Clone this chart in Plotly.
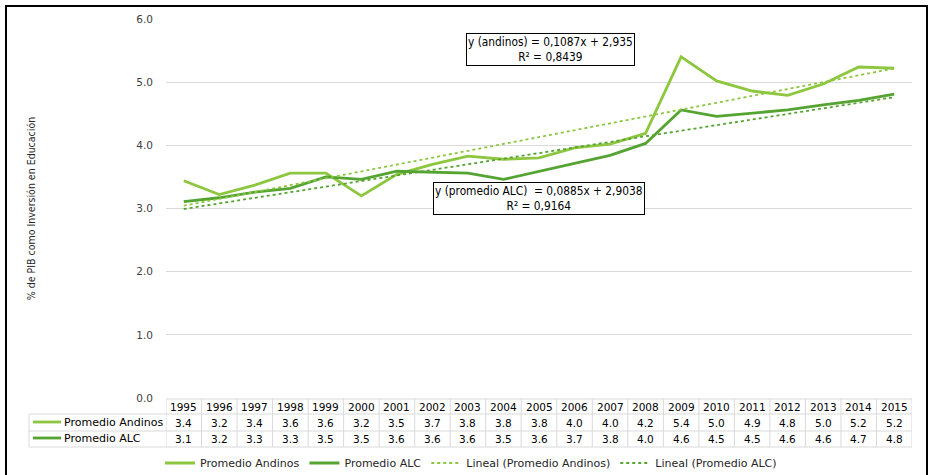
import plotly.graph_objects as go
import numpy as np

years = list(range(1995, 2016))
andinos = [3.44, 3.22, 3.37, 3.56, 3.56, 3.20, 3.54, 3.70, 3.83, 3.78, 3.80,
           3.96, 4.02, 4.19, 5.40, 5.02, 4.86, 4.79, 4.97, 5.24, 5.22]
alc = [3.11, 3.17, 3.26, 3.32, 3.50, 3.46, 3.59, 3.57, 3.56, 3.46, 3.59,
       3.72, 3.84, 4.03, 4.56, 4.46, 4.51, 4.56, 4.64, 4.71, 4.81]
series_names = ["Promedio Andinos", "Promedio ALC"]
trend_names = ["Lineal (Promedio Andinos)", "Lineal (Promedio ALC)"]
# trendline coefficients as printed on the chart (slope, intercept, R2)
trend_andinos = [0.1087, 2.935, 0.8439]
trend_alc = [0.0885, 2.9038, 0.9164]
y_ticks = [0, 1, 2, 3, 4, 5, 6]

C_AND = "#8DC63F"
C_ALC = "#55A432"
FONT = "DejaVu Sans"
FONT_C = "DejaVu Sans Condensed"

# pixel geometry helpers (plot area: x 166..912, y 19..398)
L, R, T, B = 166, 912, 19, 398
W, H = 930, 475
def px(x):
    return (x - L) / (R - L)
def py(y):
    return (B - y) / (B - T)

idx = np.arange(1, len(years) + 1)
tr_and = trend_andinos[0] * idx + trend_andinos[1]
tr_alc = trend_alc[0] * idx + trend_alc[1]

fig = go.Figure()
fig.add_trace(go.Scatter(x=years, y=andinos, mode="lines", name=series_names[0],
                         line=dict(color=C_AND, width=2.8)))
fig.add_trace(go.Scatter(x=years, y=alc, mode="lines", name=series_names[1],
                         line=dict(color=C_ALC, width=2.8)))
fig.add_trace(go.Scatter(x=years, y=tr_and, mode="lines", name=trend_names[0],
                         line=dict(color=C_AND, width=1.8, dash="dot")))
fig.add_trace(go.Scatter(x=years, y=tr_alc, mode="lines", name=trend_names[1],
                         line=dict(color=C_ALC, width=1.8, dash="dot")))

shapes = []
annotations = []
GRID = "#D9D9D9"
row_lines = [399, 414, 431, 447]
shapes.append(dict(type="line", xref="x", yref="paper", x0=years[0] - 0.5, x1=years[-1] + 0.5,
                   y0=py(row_lines[0]), y1=py(row_lines[0]), line=dict(color=GRID, width=1)))
for yl in row_lines[1:]:
    shapes.append(dict(type="line", xref="paper", yref="paper", x0=px(29), x1=1,
                       y0=py(yl), y1=py(yl), line=dict(color=GRID, width=1)))
for k in range(len(years) + 1):
    xv = years[0] - 0.5 + k
    shapes.append(dict(type="line", xref="x", yref="paper", x0=xv, x1=xv,
                       y0=py(row_lines[0]), y1=py(row_lines[-1]), line=dict(color=GRID, width=1)))
shapes.append(dict(type="line", xref="paper", yref="paper", x0=px(29), x1=px(29),
                   y0=py(row_lines[1]), y1=py(row_lines[-1]), line=dict(color=GRID, width=1)))

def txt(x, y, s, xref="x", size=10.5, xanchor="center", family=FONT):
    return dict(x=x, y=y, xref=xref, yref="paper", text=s, showarrow=False,
                xanchor=xanchor, yanchor="middle",
                font=dict(family=family, size=size, color="#000000"))

for i, yr in enumerate(years):
    annotations.append(txt(yr, py(406.5), str(yr)))
    annotations.append(txt(yr, py(422.5), "%.1f" % andinos[i]))
    annotations.append(txt(yr, py(439), "%.1f" % alc[i]))
for name, col, yc in [(series_names[0], C_AND, 422), (series_names[1], C_ALC, 438)]:
    shapes.append(dict(type="line", xref="paper", yref="paper", x0=px(33), x1=px(61),
                       y0=py(yc), y1=py(yc), line=dict(color=col, width=2.8)))
    annotations.append(txt(px(62), py(yc), name, xref="paper", size=11, xanchor="left"))

def fmt(v, d):
    return ("%.*f" % (d, v)).replace(".", ",")

box1 = txt(px(550), py(49), "y (andinos) = %sx + %s<br>R² = %s" % (
    fmt(trend_andinos[0], 4), fmt(trend_andinos[1], 3), fmt(trend_andinos[2], 4)),
    xref="paper", size=11.8, family=FONT_C)
box2 = txt(px(539), py(198), "y (promedio ALC)\u00a0 = %sx + %s<br>R² = %s" % (
    fmt(trend_alc[0], 4), fmt(trend_alc[1], 4), fmt(trend_alc[2], 4)),
    xref="paper", size=11.8, family=FONT_C)
for b in (box1, box2):
    b.update(bgcolor="white", bordercolor="#000000", borderwidth=1, borderpad=1)
    annotations.append(b)

shapes.append(dict(type="rect", xref="paper", yref="paper", x0=px(6), x1=px(927),
                   y0=py(490), y1=py(6), line=dict(color="#000000", width=2)))

fig.update_layout(
    width=W, height=H,
    margin=dict(l=L, r=W - R, t=T, b=H - B, autoexpand=False),
    paper_bgcolor="white", plot_bgcolor="white",
    showlegend=True,
    legend=dict(orientation="h", x=px(471), xanchor="center", y=py(463), yanchor="middle",
                font=dict(family=FONT, size=11, color="#262626"),
                itemwidth=30, traceorder="normal", bgcolor="rgba(0,0,0,0)"),
    xaxis=dict(range=[years[0] - 0.5, years[-1] + 0.5], showticklabels=False,
               showgrid=False, zeroline=False, showline=False, ticks=""),
    yaxis=dict(range=[0, 6], tickvals=y_ticks, tickformat=".1f",
               showgrid=True, gridcolor=GRID, gridwidth=1, zeroline=False,
               showline=False, ticks="", ticklabelstandoff=12,
               tickfont=dict(family=FONT, size=10.5, color="#404040"),
               title=dict(text="% de PIB como Inversión en Educación", standoff=98,
                          font=dict(family=FONT_C, size=10.5, color="#262626"))),
    shapes=shapes, annotations=annotations,
)
fig.write_html("out.html", config={"displayModeBar": False},
               post_script="document.body.style.margin='0';")
